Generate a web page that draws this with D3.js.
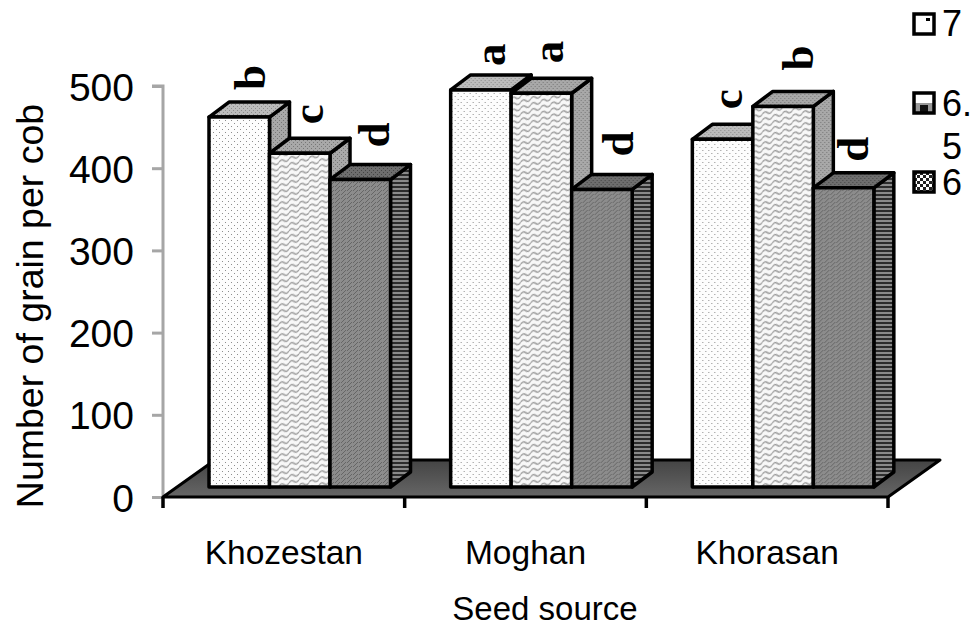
<!DOCTYPE html>
<html><head><meta charset="utf-8">
<script src="https://cdn.jsdelivr.net/npm/d3@7"></script>
<style>html,body{margin:0;padding:0;background:#fff}svg{display:block}text{font-family:"Liberation Sans",Arial,sans-serif;fill:#000}</style>
</head><body><div id="c"></div>
<script>
const categories = ["Khozestan","Moghan","Khorasan"];
const seriesNames = ["7","6.5","6"];
const series7 = [450,483,423];
const series65 = [406,479,463];
const series6 = [374,362,364];
const letters7 = ["b","a","c"];
const letters65 = ["c","a","b"];
const letters6 = ["d","d","d"];
const yTicks = [0,100,200,300,400,500];

// layout
const W=971,H=625;
const plot={left:163,right:888,floor:497,top:86};
const depth={dx:20,dy:-15,barDx:46,barDy:-10,floorDx:52,floorDy:-37};
const labelNudge=[[0,3],[-3,1],[3,-2],[-2,6],[-4,0],[5,-3],[-7,0],[4,-6],[-2,4]]; // [dx,dy] per label

const svg=d3.select("#c").append("svg").attr("width",W).attr("height",H);
const defs=svg.append("defs");
function pat(id,w,h,bg,draw){
  const p=defs.append("pattern").attr("id",id).attr("patternUnits","userSpaceOnUse").attr("width",w).attr("height",h);
  p.append("rect").attr("width",w).attr("height",h).attr("fill",bg);
  draw(p);
  return p;
}
const dots=(p,pts,c)=>pts.forEach(a=>p.append("rect").attr("x",a[0]).attr("y",a[1]).attr("width",1).attr("height",1).attr("fill",c));
pat("pDots",6,6,"#fdfdfd",p=>dots(p,[[1,1],[4,4]],"#8e8e8e"));
pat("pWave",10,6,"#f8f8f8",p=>{p.append("path").attr("d","M0 3 Q2.5 0 5 3 T10 3").attr("fill","none").attr("stroke","#9c9c9c").attr("stroke-width",1.3);}).attr("patternTransform","skewY(-18)");
pat("pDense",6,4,"#8c8c8c",p=>dots(p,[[0,0],[2,2],[4,0],[1,3],[3,1]],"#666"));
pat("pTop1",4,4,"#bcbcbc",p=>dots(p,[[0,0],[2,2]],"#8c8c8c"));
pat("pTop2",4,4,"#a8a8a8",p=>dots(p,[[0,0],[2,2]],"#777"));
pat("pTop3",4,4,"#6e6e6e",p=>dots(p,[[0,0],[2,2]],"#454545"));
pat("pSide3",4,4,"#8a8a8a",p=>{p.append("rect").attr("y",0).attr("width",4).attr("height",2).attr("fill","#2c2c2c");});
pat("pLeg3",6,6,"#fff",p=>{p.append("rect").attr("width",3).attr("height",3).attr("fill","#222");p.append("rect").attr("x",3).attr("y",3).attr("width",3).attr("height",3).attr("fill","#222");});
const g=defs.append("linearGradient").attr("id","floorG").attr("x1",0).attr("x2",0).attr("y1",0).attr("y2",1);
g.append("stop").attr("offset","0").attr("stop-color","#444");
g.append("stop").attr("offset","1").attr("stop-color","#666");

const y=d3.scaleLinear().domain([0,500]).range([plot.floor,plot.top]);
const x0=d3.scaleBand().domain(categories).range([plot.left,plot.right]);
const barW=60.5;
const x1=d3.scaleBand().domain(seriesNames).range([0,barW*3]);
const fronts=["pDots","pWave","pDense"],tops=["pTop1","pTop2","pTop3"],sides=["pTop2","pTop2","pSide3"];
const values=[series7,series65,series6],letters=[letters7,letters65,letters6];

// floor
svg.append("path").attr("d",`M${plot.left} ${plot.floor}H${plot.right}L${plot.right+depth.floorDx} ${plot.floor+depth.floorDy}H${plot.left+depth.floorDx}Z`)
  .attr("fill","url(#floorG)").attr("stroke","#000").attr("stroke-width",3).attr("stroke-linejoin","round");

// y axis wall line
const ax=svg.append("g").attr("transform",`translate(${plot.left},0)`)
  .call(d3.axisLeft(y).tickValues(yTicks).tickSize(11).tickPadding(18));
ax.selectAll("path").attr("stroke","#a6a6a6").attr("stroke-width",3).attr("d",`M-11 ${y(500)}H0V${y(0)}`);
ax.selectAll("line").attr("stroke","#a6a6a6").attr("stroke-width",3);
ax.selectAll("text").style("font-size","39px").style("font-family",'"Liberation Sans"').attr("dy","0.36em").attr("fill","#000");
ax.lower();

// x ticks
const bx=svg.append("g").attr("transform",`translate(0,${plot.floor})`)
  .call(d3.axisBottom(x0).tickSize(0).tickPadding(43));
bx.select("path").remove();
bx.selectAll("text").style("font-size","33.5px").style("font-family",'"Liberation Sans"').attr("fill","#000");
const edges=d3.range(4).map(i=>plot.left+i*x0.step());
svg.selectAll(".xt").data(edges).join("line").attr("x1",d=>d).attr("x2",d=>d).attr("y1",plot.floor).attr("y2",plot.floor+11).attr("stroke","#000").attr("stroke-width",3.5);

// bars
const gs=svg.selectAll(".grp").data(categories).join("g")
  .attr("transform",(d,i)=>`translate(${x0(d)+depth.barDx},${depth.barDy})`);
gs.each(function(cat,ci){
  const G=d3.select(this);
  seriesNames.forEach((s,si)=>{
    const xl=x1(s), xr=xl+x1.bandwidth(), t=y(values[si][ci]), b=y(0);
    const st={stroke:"#000","stroke-width":3.5,"stroke-linejoin":"round"};
    const P=(d,f)=>{const e=G.append("path").attr("d",d).attr("fill",f);Object.entries(st).forEach(([k,v])=>e.attr(k,v));};
    P(`M${xr} ${t}L${xr+depth.dx} ${t+depth.dy}V${b+depth.dy}L${xr} ${b}Z`,`url(#${sides[si]})`);
    P(`M${xl} ${t}L${xl+depth.dx} ${t+depth.dy}H${xr+depth.dx}L${xr} ${t}Z`,`url(#${tops[si]})`);
    P(`M${xl} ${t}H${xr}V${b}H${xl}Z`,`url(#${fronts[si]})`);
  });
});
// significance letters
categories.forEach((cat,ci)=>seriesNames.forEach((s,si)=>{
  const n=labelNudge[ci*3+si];
  const lx=x0(cat)+depth.barDx+x1(s)+x1.bandwidth()/2+14+n[0]+12;
  const ly=y(values[si][ci])+depth.barDy+depth.dy-15+n[1];
  svg.append("text").attr("transform",`translate(${lx},${ly}) rotate(-90)`)
    .style("font-family",'"Liberation Serif"').style("font-weight","bold").style("font-size","45px").text(letters[si][ci]);
}));

// titles
svg.append("text").attr("transform",`translate(43,306) rotate(-90)`).attr("text-anchor","middle").style("font-size","37.5px").text("Number of grain per cob");
svg.append("text").attr("x",545).attr("y",620).attr("text-anchor","middle").style("font-size","33px").text("Seed source");

// legend
const legG=svg.append("g");
const legMarks=[
  m=>m.append("rect").attr("x",12).attr("y",4).attr("width",4).attr("height",3).attr("fill","#000"),
  m=>{m.append("rect").attr("y",10).attr("width",20).attr("height",10).attr("fill","#999");m.append("rect").attr("x",6).attr("y",12).attr("width",8).attr("height",8).attr("fill","#111");},
  m=>{}
];
[14,93,172].forEach((yy,i)=>{
  const m=legG.append("g").attr("transform",`translate(914,${yy})`);
  m.append("rect").attr("width",20).attr("height",20).attr("fill",i==2?"url(#pLeg3)":"#fff");
  legMarks[i](m);
  m.append("rect").attr("width",20).attr("height",20).attr("fill","none").attr("stroke","#000").attr("stroke-width",3.5);
});
const lt=(s,yy)=>legG.append("text").attr("x",942).attr("y",yy).style("font-size","36px").text(s);
lt(seriesNames[0],36);lt("6.",116);lt("5",159);lt(seriesNames[2],195);
</script></body></html>
